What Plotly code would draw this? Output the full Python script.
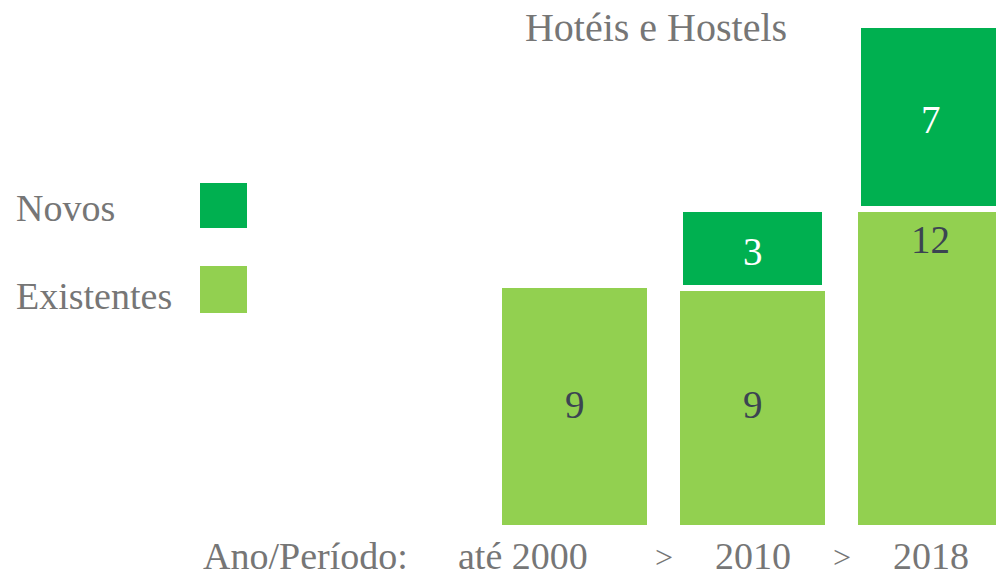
import plotly.graph_objects as go

# ---- data ----
categories = ["até 2000", "2010", "2018"]
existentes = [9, 9, 12]
novos = [None, 3, 7]
exist_label_pos = ["middle", "middle", "top"]
title_text = "Hotéis e Hostels"
axis_label = "Ano/Período:"
separator = ">"

FONT = "Liberation Serif"
GREY = "#767676"
DARK = "#3B4452"
C_EXIST = "#92D050"
C_NOVOS = "#00B050"

W, H = 996, 577
ML, MR, MT, MB = 485, 0, 11, 52
pw, ph = W - ML - MR, H - MT - MB
px_per_unit_x = 178.0
x0 = -89.5 / px_per_unit_x
xr = [x0, x0 + pw / px_per_unit_x]
px_per_unit_y = 26.33
yr = [0, ph / px_per_unit_y]

xs = list(range(len(categories)))

fig = go.Figure()
fig.add_trace(go.Bar(x=xs, y=existentes, name="Existentes", width=0.815,
                     marker=dict(color=C_EXIST, line=dict(width=0)),
                     hoverinfo="skip"))
fig.add_trace(go.Bar(x=xs, y=novos, name="Novos", width=0.815,
                     marker=dict(color=C_NOVOS, line=dict(color="white", width=6)),
                     hoverinfo="skip"))

ann = []
# value labels
for i, (e, n) in enumerate(zip(existentes, novos)):
    if exist_label_pos[i] == "middle":
        ann.append(dict(x=i, y=e / 2, text=str(e), showarrow=False, xref="x", yref="y",
                        font=dict(family=FONT, size=39, color=DARK), yanchor="middle", yshift=2))
    else:
        ann.append(dict(x=i, y=e, text=str(e), showarrow=False, xref="x", yref="y",
                        font=dict(family=FONT, size=39, color=DARK), yanchor="top", yshift=-7))
    if n:
        ann.append(dict(x=i, y=e + n / 2, text=str(n), showarrow=False, xref="x", yref="y",
                        font=dict(family=FONT, size=39, color="white"), yanchor="middle", yshift=-3))

# category labels
cat_shift = [-52, 0, 0]
for i, c in enumerate(categories):
    ann.append(dict(x=i, y=0, xref="x", yref="y", text=c, showarrow=False,
                    xanchor="center", yanchor="middle", yshift=-31, xshift=cat_shift[i],
                    font=dict(family=FONT, size=38, color=GREY)))
for i in range(len(categories) - 1):
    ann.append(dict(x=i + 0.5, y=0, xref="x", yref="y", text=separator, showarrow=False,
                    xanchor="center", yanchor="middle", yshift=-32,
                    font=dict(family=FONT, size=32, color=GREY)))
ann.append(dict(x=(305 - ML) / pw, y=0, xref="paper", yref="y", text=axis_label,
                showarrow=False, xanchor="center", yanchor="middle", yshift=-31,
                font=dict(family=FONT, size=38, color=GREY)))

# legend (custom)
def pxx(p):
    return (p - ML) / pw
def pxy(p):
    return (H - MB - p) / ph

legend_items = [("Novos", C_NOVOS, 208, 183, 228), ("Existentes", C_EXIST, 296, 266, 313)]
shapes = []
for name, col, ty, sy0, sy1 in legend_items:
    ann.append(dict(x=pxx(14), y=pxy(ty), xref="paper", yref="paper", text=name,
                    showarrow=False, xanchor="left", yanchor="middle",
                    font=dict(family=FONT, size=38, color=GREY)))
    shapes.append(dict(type="rect", xref="paper", yref="paper",
                       x0=pxx(200), x1=pxx(247), y0=pxy(sy1), y1=pxy(sy0),
                       fillcolor=col, line=dict(width=0)))

fig.update_layout(
    width=W, height=H,
    margin=dict(l=ML, r=MR, t=MT, b=MB),
    barmode="stack",
    showlegend=False,
    plot_bgcolor="white", paper_bgcolor="white",
    title=dict(text=title_text, x=656 / W, xanchor="center", y=1 - 27 / H, yanchor="middle",
               font=dict(family=FONT, size=40, color=GREY)),
    xaxis=dict(range=xr, showticklabels=False, showgrid=False, zeroline=False,
               showline=False, ticks=""),
    yaxis=dict(range=yr, showticklabels=False, showgrid=False, zeroline=False,
               showline=False, ticks=""),
    annotations=ann,
    shapes=shapes,
)

fig.write_html("out.html")
